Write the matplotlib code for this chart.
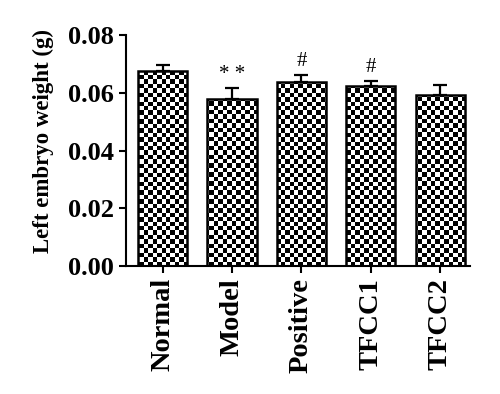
import numpy as np
import matplotlib
matplotlib.use("Agg")
import matplotlib.pyplot as plt

plt.rcParams['font.family'] = 'Liberation Serif'
plt.rcParams['font.weight'] = 'bold'

groups = ['Normal', 'Model', 'Positive', 'TFCC1', 'TFCC2']
weight = [0.0675, 0.0580, 0.0637, 0.0623, 0.0594]
sem = [0.0023, 0.0035, 0.0023, 0.0017, 0.0032]
marks = ['', '* *', '#', '#', '']

fig = plt.figure(figsize=(5.0, 3.94), dpi=100)
ax = fig.add_axes([0.252, 0.325, 0.688, 0.586])

x = np.arange(len(groups))
bars = ax.bar(x, weight, width=0.71, facecolor='none', edgecolor='black',
              linewidth=1.8, zorder=3)
ax.errorbar(x, weight, yerr=[np.zeros(len(sem)), sem], fmt='none',
            ecolor='black', elinewidth=1.6, capsize=5, capthick=1.6, zorder=1)

# checkerboard fill, clipped to each bar
nx, ny = 78, 52
checker = (np.add.outer(np.arange(ny), np.arange(nx)) % 2).astype(float)
for b in bars:
    im = ax.imshow(checker, cmap='gray', extent=(-0.53, 4.43, 0, 0.08),
                   interpolation='nearest', aspect='auto', zorder=2)
    im.set_clip_path(b)

ax.set_xlim(-0.53, 4.43)
ax.set_ylim(0, 0.08)

for xi, w, s, m in zip(x, weight, sem, marks):
    if m:
        ax.annotate(m, (xi, w + s), xytext=(0, 3), textcoords='offset points',
                    ha='center', va='bottom', fontsize=15, fontweight='normal')

ax.set_xticks(x)
ax.set_xticklabels(groups, rotation=90, fontsize=20.5)
ax.set_yticks([0, 0.02, 0.04, 0.06, 0.08])
ax.set_yticklabels(['0.00', '0.02', '0.04', '0.06', '0.08'], fontsize=19)
ax.set_ylabel('Left embryo weight (g)', fontsize=16.5, fontweight='bold')
ax.yaxis.set_label_coords(-0.21, 0.54)
ax.spines['top'].set_visible(False)
ax.spines['right'].set_visible(False)
ax.spines['left'].set_linewidth(1.5)
ax.spines['bottom'].set_linewidth(1.5)
ax.tick_params(width=1.5, length=5)

fig.savefig('out.png', dpi=100)
